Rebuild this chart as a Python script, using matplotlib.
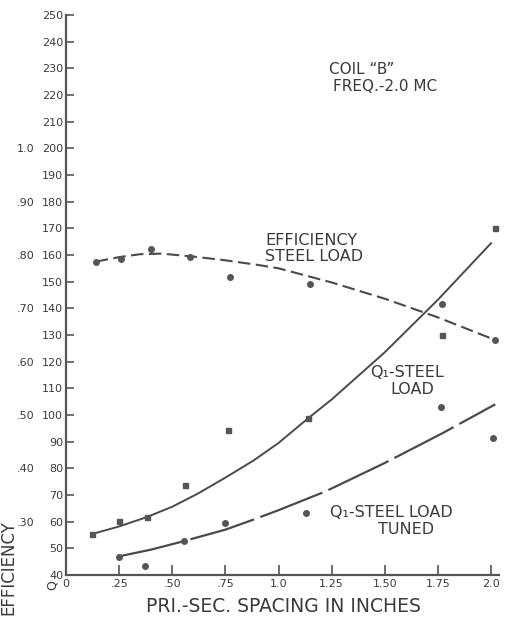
import numpy as np
import matplotlib
matplotlib.use('Agg')
import matplotlib.pyplot as plt

# measured points (Q scale; efficiency = Q / 200)
eff_x = [0.14, 0.26, 0.40, 0.585, 0.77, 1.15, 1.77, 2.02]
eff_pts = [157.5, 158.4, 162.1, 159.2, 151.9, 149.1, 141.6, 128.1]
q_x = [0.12, 0.25, 0.38, 0.56, 0.76, 1.14, 1.77, 2.02]
q_pts = [55.3, 60.4, 61.7, 73.8, 94.4, 98.8, 130.0, 170.2]
tuned_x = [0.25, 0.37, 0.555, 0.75, 1.13, 1.765, 2.01]
tuned_pts = [46.8, 43.5, 52.8, 59.4, 63.4, 102.9, 91.5]

# hand-drawn curves
eff_cx = [0.14, 0.25, 0.35, 0.45, 0.60, 0.75, 0.90, 1.00, 1.25, 1.50, 1.75, 2.02]
eff_cy = [157.5, 159.2, 160.3, 160.5, 159.4, 158.0, 156.3, 155.0, 149.7, 143.6, 136.6, 128.1]
q_cx = [0.12, 0.25, 0.38, 0.50, 0.62, 0.75, 0.88, 1.00, 1.14, 1.25, 1.50, 1.75, 2.00]
q_cy = [55.3, 58.2, 61.7, 65.6, 70.5, 76.5, 82.8, 89.5, 98.8, 105.8, 123.5, 143.2, 164.4]
tuned_cx = [0.25, 0.40, 0.55, 0.75, 0.88, 1.00, 1.22, 1.50, 1.77, 2.02]
tuned_cy = [47.0, 49.5, 52.6, 57.0, 60.7, 64.3, 71.3, 82.0, 93.1, 104.0]

x_ticks = [0, 0.25, 0.5, 0.75, 1.0, 1.25, 1.5, 1.75, 2.0]
x_labels = ['0', '.25', '.50', '.75', '1.0', '1.25', '1.50', '1.75', '2.0']
q_ticks = list(range(40, 251, 10))
eff_ticks = [0.3, 0.4, 0.5, 0.6, 0.7, 0.8, 0.9, 1.0]
eff_labels = ['.30', '.40', '.50', '.60', '.70', '.80', '.90', '1.0']

ink = '#3a3a3a'
line_c = '#4a4a4a'
dot_c = '#555555'

fig = plt.figure(figsize=(5.07, 6.21), dpi=100)
ax = fig.add_axes([0.1302, 0.0741, 0.855, 0.9018])

ax.plot(eff_cx, eff_cy, color=line_c, lw=1.5, linestyle=(0, (6, 2.6)))
ax.plot(q_cx, q_cy, color=line_c, lw=1.4)
ax.plot(tuned_cx, tuned_cy, color=line_c, lw=1.6, linestyle=(0, (30, 3)))

ax.plot(eff_x, eff_pts, 'o', color=dot_c, ms=4, mec=dot_c)
ax.plot(q_x, q_pts, 's', color=dot_c, ms=3.6, mec=dot_c)
ax.plot(tuned_x, tuned_pts, 'o', color=dot_c, ms=4, mec=dot_c)

ax.set_xlim(0, 2.04)
ax.set_ylim(40, 250)
ax.set_xticks(x_ticks)
ax.set_xticklabels(x_labels)
ax.set_yticks(q_ticks)
for s in ['top', 'right']:
    ax.spines[s].set_visible(False)
for s in ['left', 'bottom']:
    ax.spines[s].set_color('#555555')
    ax.spines[s].set_linewidth(1.6)
ax.tick_params(axis='y', direction='in', length=6, width=1.2, color='#555555',
               labelsize=8, labelcolor=ink, pad=2)
ax.tick_params(axis='x', direction='in', length=7, width=1.2, color='#555555',
               labelsize=8, labelcolor=ink, pad=3)

sec = ax.secondary_yaxis(-0.072, functions=(lambda q: q / 200.0, lambda e: e * 200.0))
sec.set_yticks(eff_ticks)
sec.set_yticklabels(eff_labels)
sec.spines['left'].set_visible(False)
sec.tick_params(length=0, labelsize=8, labelcolor=ink, pad=0)

fig.text(283 / 507, 1 - 606 / 621, 'PRI.-SEC. SPACING IN INCHES', fontsize=13.5,
         color=ink, ha='center', va='center')

ax.text(1.393, 229.4, 'COIL “B”', fontsize=11, color=ink, ha='center', va='center')
ax.text(1.50, 223.0, 'FREQ.-2.0 MC', fontsize=11, color=ink, ha='center', va='center')
ax.text(0.936, 162.5, 'EFFICIENCY\nSTEEL LOAD', fontsize=11.5, color=ink,
        linespacing=1.05, va='center', ha='left')
ax.text(1.43, 115.8, 'Q₁-STEEL', fontsize=11.5, color=ink, ha='left', va='center')
ax.text(1.63, 109.4, 'LOAD', fontsize=11.5, color=ink, ha='center', va='center')
ax.text(1.24, 63.3, 'Q₁-STEEL LOAD', fontsize=11.5, color=ink, ha='left', va='center')
ax.text(1.60, 56.9, 'TUNED', fontsize=11.5, color=ink, ha='center', va='center')

fig.text(8 / 507, 1 - 520 / 621, 'EFFICIENCY', rotation=90, fontsize=12,
         color=ink, ha='center', va='top')
fig.text(52 / 507, 1 - 585 / 621, 'Q', rotation=90, fontsize=9, color=ink,
         ha='center', va='center')

fig.savefig('out.png', dpi=100, facecolor='white')
